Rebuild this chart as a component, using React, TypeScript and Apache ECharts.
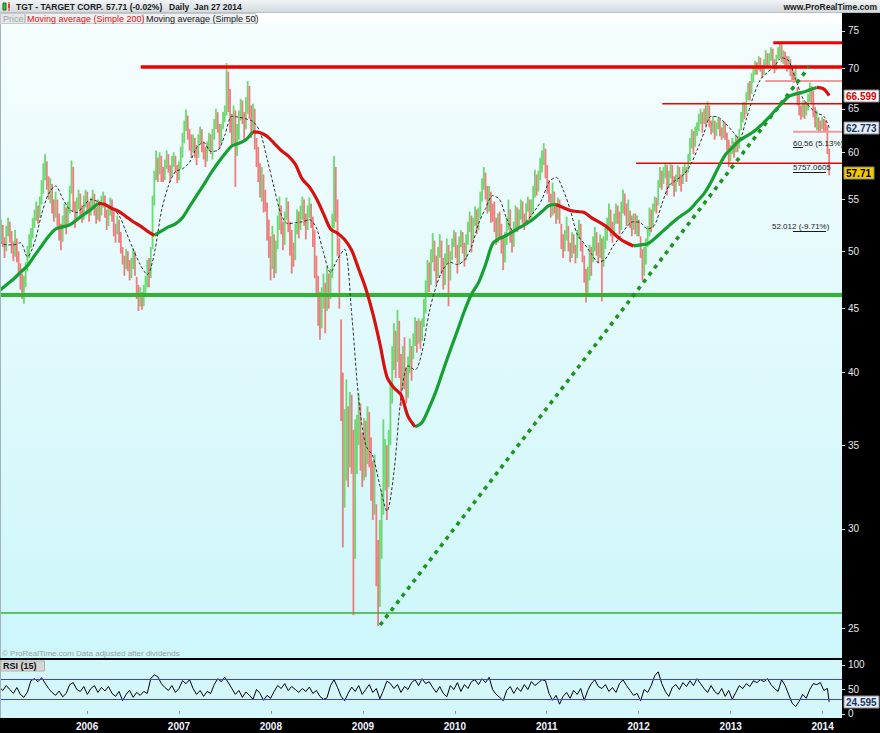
import { useEffect, useRef } from "react";
import * as echarts from "echarts";

// ---------- time grid ----------
const DAY = 86400000;
const FIRST_WEEK = Date.UTC(2005, 0, 17);
const LAST_DAY = Date.UTC(2014, 0, 27);
const X_MIN = Date.UTC(2005, 0, 20);
const X_MAX = Date.UTC(2014, 2, 19);
const weekTime = (i: number) => Math.min(FIRST_WEEK + i * 7 * DAY, LAST_DAY);

// ---------- weekly price bars (TGT) ----------
const priceClose = [
  51.2, 52.4, 51.0, 50.2, 51.6, 52.6, 51.8, 50.4, 49.8, 51.0,
  49.6, 48.3, 47.4, 46.5, 46.9,
  48.4, 49.8, 50.6, 51.4,
  52.6, 53.2, 54.0, 53.4, 54.6, 55.6,
  57.8, 58.6, 56.8,
  55.6, 56.4, 54.6, 53.8, 55.0,
  53.2, 52.0, 51.2, 52.4, 53.8, 52.6, 54.0,
  55.8, 57.6, 54.2, 53.6,
  54.4, 55.2, 54.0, 53.4, 54.8, 55.4, 54.2, 53.6, 54.6, 55.3, 54.0, 53.2, 54.4,
  53.8, 54.6, 55.2, 53.8, 52.8, 53.6, 54.4,
  53.4, 52.2, 51.6, 52.8, 51.4, 50.6,
  49.4, 48.6, 49.6, 48.8, 48.0, 48.6, 49.8, 48.4,
  46.6, 45.6, 46.2, 45.4, 46.4, 47.2,
  48.6, 47.8, 50.0,
  54.6, 57.4, 58.8, 58.0, 59.2, 58.2,
  57.4, 58.6, 59.6, 58.4, 57.6, 58.8, 59.4, 58.2, 57.2, 58.4, 59.8,
  61.6, 62.8, 64.0, 62.2, 61.4, 60.6,
  61.0, 60.4, 59.8, 61.2, 62.2, 61.0, 60.0, 59.2, 60.4, 61.4, 60.8,
  61.8, 63.0, 64.2, 62.8, 61.6, 62.4, 63.8, 64.6,
  69.0, 66.0,
  63.4, 61.8, 64.4, 60.2, 62.0, 64.0,
  65.6, 64.2, 62.8, 65.2, 67.4, 65.0, 63.2, 64.6, 63.0,
  60.0, 58.2, 56.6, 57.4, 55.0, 54.6,
  52.4, 50.6, 49.0, 51.6, 48.6, 50.2,
  52.4, 53.8, 52.2, 51.0, 53.4, 54.6, 52.6,
  51.2, 50.0, 49.4, 52.0, 53.0, 52.2,
  53.4, 54.6, 53.0, 52.2, 53.8, 54.4, 52.8,
  51.6, 49.0, 47.2, 45.4, 44.0, 46.0,
  46.8, 45.2, 47.4, 46.0, 47.8,
  52.6, 57.0, 54.0, 51.0,
  47.0,
  38.0, 33.4, 35.2,
  36.4, 34.0, 37.8, 35.0,
  29.0, 33.6,
  35.6, 37.2, 34.4, 33.2, 35.8, 34.0, 36.8, 35.0,
  32.8, 31.6, 33.2,
  28.2, 26.4, 28.6,
  31.4, 33.0, 34.6, 32.6, 35.0,
  38.4, 40.6, 42.4, 41.0, 43.6, 40.8,
  39.4, 41.2, 39.8, 38.6, 40.4, 41.6, 40.2,
  42.4, 43.6, 42.2, 43.8, 42.8, 43.4,
  45.0, 46.6, 48.4, 47.2, 49.4, 50.6, 49.0, 48.2,
  49.6, 50.8, 48.8, 47.4, 49.2, 50.4, 47.0,
  49.4, 50.6, 51.4, 50.2, 49.0, 50.8, 51.6, 50.4, 49.6, 51.0,
  52.2, 53.0, 51.6, 52.6, 53.8, 52.4, 53.6,
  55.2, 56.4, 57.6, 56.0, 54.4, 55.6, 54.0, 53.6,
  52.6, 51.4, 53.0, 52.2, 50.8, 49.6, 51.2, 52.6,
  53.6, 51.8, 50.6, 52.4, 53.8, 52.6, 53.2,
  54.2, 53.4, 52.8, 54.0, 54.8, 53.6, 54.4,
  55.6, 57.0, 56.2, 57.4,
  58.6, 59.4, 60.0, 58.0, 56.4, 55.4,
  54.0, 55.2, 54.4, 53.4, 54.6, 53.0,
  51.0, 50.2, 51.4, 52.2, 50.6, 49.8, 51.2, 50.4, 49.6, 51.6, 52.4, 50.8, 49.6,
  48.0, 46.6, 47.8, 49.4, 48.6,
  50.6, 51.4, 50.2, 49.6, 51.0, 49.0, 50.8, 51.8,
  52.6, 53.4, 52.2, 51.6, 53.0, 54.0, 53.2, 52.4,
  54.2, 55.2, 54.0, 53.2, 54.4,
  53.0, 52.4, 53.2, 52.0, 52.8, 51.8,
  49.8, 48.4, 49.2, 50.2,
  51.8, 53.4, 52.6, 54.0, 55.0, 54.4,
  56.4, 57.6, 56.8, 57.8, 58.2, 56.6, 57.4, 58.4, 57.2, 56.2, 57.0, 58.0, 57.2, 56.6, 57.8, 58.4, 57.6,
  59.4, 60.8, 61.8, 60.6, 62.2, 62.6,
  63.8, 64.4, 63.2, 64.6, 64.0, 65.2, 63.8,
  62.6, 63.4, 62.0, 62.8, 63.6, 62.4, 61.8, 63.0, 62.2,
  61.0, 59.4, 60.0, 60.8, 60.2, 61.4, 60.6, 62.0,
  63.8, 65.2, 64.6, 66.4, 67.6, 67.0, 68.6,
  69.6, 70.4, 69.8, 71.0, 70.2, 69.4, 70.6, 71.6, 70.8, 71.4, 72.0, 71.0, 70.2, 71.2, 72.2,
  72.6, 71.6,
  72.0, 71.2, 70.4, 71.0, 69.8, 69.2, 68.6, 69.4,
  66.6, 65.0, 64.2, 65.4, 64.4, 65.2,
  66.2, 67.4, 66.8, 64.6, 63.6, 64.2,
  63.2, 62.6, 63.4, 63.0, 62.8,
  60.2, 57.71,
];

const priceHigh = [
  52.2, 53.0, 52.5, 51.3, 52.4, 53.2, 52.8, 51.9, 50.9, 52.0,
  51.2, 50.0, 48.9, 48.0, 47.8,
  49.0, 50.5, 51.6, 52.2,
  53.2, 54.0, 54.8, 54.4, 55.3, 57.0,
  58.8, 59.8, 59.0,
  57.4, 57.2, 56.6, 55.0, 55.8,
  55.0, 53.6, 52.6, 53.4, 54.6, 54.2, 54.8,
  56.4, 59.1, 58.4, 54.8,
  55.2, 56.0, 55.6, 54.4, 55.4, 56.0, 55.8, 54.8, 55.2, 56.0, 55.6, 54.2, 55.0,
  54.8, 55.4, 55.8, 55.4, 54.0, 54.4, 55.2,
  55.0, 53.8, 52.6, 53.4, 53.0, 51.8,
  50.4, 49.6, 50.2, 50.0, 49.2, 49.4, 50.3, 50.0,
  47.7, 47.0, 46.8, 46.4, 47.0, 47.8,
  49.2, 49.4, 50.4,
  55.4, 58.0, 60.2, 59.4, 60.0, 59.6,
  58.4, 59.2, 60.2, 59.8, 58.6, 59.6, 60.0, 59.6, 58.6, 59.0, 60.6,
  62.2, 63.6, 64.9, 64.2, 62.6, 62.0,
  62.0, 61.6, 60.8, 62.0, 62.9, 62.6, 61.2, 60.6, 61.2, 62.2, 62.0,
  62.6, 63.8, 65.0, 64.6, 63.2, 63.2, 64.6, 65.4,
  70.7, 69.6,
  67.4, 64.4, 65.4, 64.8, 63.2, 64.8,
  66.2, 66.0, 64.6, 66.4, 68.4, 67.8, 65.4, 65.6, 65.0,
  61.6, 60.6, 58.8, 58.4, 57.6, 56.0,
  54.7, 53.0, 51.4, 52.4, 51.6, 51.0,
  53.4, 55.3, 54.4, 52.8, 53.8, 55.2, 54.8,
  52.8, 52.0, 50.8, 52.6, 54.0, 53.8,
  54.4, 55.3, 55.0, 53.6, 54.4, 55.2, 54.6,
  53.3, 52.0, 49.6, 47.8, 46.4, 46.8,
  48.0, 47.2, 48.6, 48.0, 48.4,
  53.6, 59.6, 58.4, 55.0,
  51.2,
  44.1, 40.0, 37.4,
  39.5, 37.6, 38.6, 38.4,
  36.0, 36.7,
  37.0, 38.5, 37.8, 35.8, 36.8, 36.6, 37.6, 37.2,
  35.5, 34.0, 34.4,
  31.4, 29.4, 30.5,
  32.2, 36.7, 35.4, 35.0, 36.0,
  39.2, 42.0, 43.8, 43.2, 44.9, 44.0,
  41.4, 42.0, 42.7, 40.4, 41.2, 42.6, 42.0,
  43.0, 44.3, 44.0, 44.2, 44.0, 44.2,
  45.8, 47.4, 49.2, 49.0, 50.2, 51.7, 51.0, 49.6,
  50.4, 51.6, 51.0, 49.4, 49.8, 51.2, 50.6,
  50.0, 51.2, 52.0, 51.8, 50.6, 51.4, 52.0, 51.8, 50.8, 51.6,
  52.8, 53.8, 53.4, 53.2, 54.3, 54.0, 54.2,
  55.8, 57.2, 58.4, 57.8, 56.4, 56.4, 55.8, 54.6,
  54.8, 53.2, 53.6, 53.8, 52.6, 51.4, 51.8, 53.2,
  55.0, 54.0, 52.0, 52.8, 54.4, 54.2, 54.0,
  55.0, 54.8, 53.6, 54.6, 55.3, 55.0, 55.0,
  56.4, 58.1, 57.6, 58.0,
  59.4, 60.2, 61.0, 60.4, 58.6, 57.0,
  55.6, 56.7, 55.8, 54.6, 55.2, 55.0,
  52.6, 51.6, 52.0, 53.3, 52.4, 50.8, 51.8, 51.6, 50.6, 52.0, 53.0, 52.6, 50.8,
  49.6, 48.4, 48.6, 50.6, 50.4,
  51.4, 52.3, 51.8, 50.8, 51.6, 51.2, 51.4, 52.2,
  53.2, 54.6, 54.0, 52.8, 53.6, 54.6, 54.4, 53.8,
  54.8, 56.0, 55.6, 54.6, 55.0,
  53.9, 53.4, 53.6, 53.6, 53.4, 53.0,
  51.4, 50.2, 50.4, 51.2,
  52.4, 54.2, 54.0, 54.6, 55.3, 55.2,
  57.0, 58.4, 58.0, 58.4, 58.8, 58.6, 58.0, 58.8, 58.6, 57.4, 57.6, 58.6, 58.4, 57.6, 58.4, 58.8, 58.4,
  59.8, 61.6, 62.6, 62.4, 62.9, 63.4,
  64.4, 65.0, 64.6, 65.0, 65.4, 65.9, 65.4,
  63.6, 64.1, 63.6, 63.4, 64.0, 63.8, 62.8, 63.6, 63.4,
  62.2, 61.4, 60.8, 61.6, 61.2, 62.0, 61.8, 62.6,
  64.6, 65.8, 65.8, 67.0, 68.2, 68.4, 69.4,
  70.2, 71.0, 70.8, 71.6, 71.4, 70.4, 71.2, 72.4, 72.0, 72.0, 72.8, 72.6, 71.2, 71.8, 72.8,
  73.5, 73.2,
  72.4, 72.2, 71.6, 71.6, 71.2, 70.2, 69.6, 70.2,
  67.6, 66.8, 65.4, 66.0, 65.8, 65.8,
  66.8, 68.2, 67.8, 67.2, 65.2, 64.8,
  64.0, 63.6, 64.0, 63.8, 63.6,
  63.0, 60.4,
];

const priceLow = [
  50.3, 50.9, 50.4, 49.4, 50.0, 51.4, 50.8, 49.8, 49.1, 49.5,
  49.0, 47.8, 46.6, 45.8, 45.4,
  46.8, 48.2, 49.4, 50.3,
  51.2, 52.2, 52.9, 52.6, 53.2, 54.5,
  55.6, 57.0, 56.0,
  55.0, 54.6, 53.6, 52.8, 53.2,
  52.4, 51.0, 50.1, 50.9, 52.2, 51.6, 52.4,
  53.6, 55.6, 53.8, 52.2,
  53.0, 54.0, 53.2, 52.7, 53.0, 54.2, 53.6, 52.8, 53.4, 54.0, 53.4, 52.6, 53.0,
  52.8, 53.4, 54.2, 53.2, 52.0, 52.4, 53.4,
  52.8, 51.4, 50.8, 51.6, 50.8, 49.8,
  48.8, 47.8, 48.4, 48.2, 47.4, 47.6, 48.4, 47.8,
  45.8, 44.8, 45.2, 44.9, 45.2, 46.0,
  46.8, 46.8, 47.6,
  50.2, 54.4, 57.0, 56.8, 57.6, 56.8,
  56.8, 57.0, 58.2, 57.8, 56.8, 57.4, 58.4, 57.8, 56.7, 57.0, 58.2,
  59.4, 61.0, 62.4, 61.4, 60.2, 59.4,
  60.0, 59.4, 58.6, 59.4, 61.0, 60.0, 59.2, 58.4, 59.0, 60.2, 59.8,
  59.2, 61.4, 62.6, 62.2, 60.4, 61.0, 62.6, 63.4,
  64.2, 64.6,
  62.2, 60.6, 61.0, 56.3, 59.6, 61.4,
  63.6, 63.2, 61.4, 62.6, 64.4, 63.8, 61.6, 62.2, 60.3,
  58.4, 56.8, 55.2, 54.8, 53.7, 53.8,
  51.0, 49.4, 47.4, 48.4, 47.6, 48.0,
  50.2, 52.0, 51.6, 50.1, 50.6, 53.0, 51.8,
  49.6, 48.0, 48.6, 49.2, 51.6, 51.2,
  52.0, 53.0, 52.4, 51.1, 52.0, 53.2, 52.2,
  50.4, 47.6, 46.0, 43.6, 42.5, 43.4,
  45.0, 43.0, 44.8, 45.0, 45.8,
  47.6, 52.2, 52.8, 49.6,
  45.0,
  36.6, 29.0, 31.2,
  32.8, 32.4, 33.6, 33.2,
  25.6, 28.4,
  33.2, 35.0, 33.4, 32.4, 32.8, 33.0, 33.8, 33.6,
  31.6, 30.5, 30.8,
  27.0, 25.1, 26.0,
  28.4, 30.8, 32.2, 30.5, 32.4,
  35.0, 37.8, 40.2, 39.6, 40.8, 39.6,
  37.6, 38.8, 38.8, 37.8, 38.2, 40.0, 39.4,
  41.0, 42.0, 41.5, 42.2, 41.8, 42.4,
  43.5, 44.6, 46.2, 46.4, 47.0, 49.0, 48.2, 47.0,
  47.6, 49.4, 48.0, 46.6, 47.0, 48.8, 45.2,
  47.4, 49.2, 50.4, 49.4, 48.0, 48.8, 50.4, 49.8, 48.6, 49.2,
  50.6, 51.8, 49.9, 51.0, 52.4, 51.6, 52.0,
  53.2, 54.8, 56.0, 55.0, 53.6, 53.8, 52.7, 52.8,
  51.8, 50.6, 50.8, 51.2, 49.8, 48.3, 49.0, 50.6,
  52.0, 50.8, 49.9, 50.4, 52.0, 51.8, 52.2,
  53.0, 52.6, 52.0, 52.6, 53.8, 52.8, 53.2,
  53.6, 55.2, 55.4, 55.8,
  57.0, 57.8, 58.6, 57.2, 55.6, 54.7,
  53.2, 53.4, 53.6, 52.6, 53.0, 52.6,
  50.2, 49.4, 50.0, 51.0, 50.0, 49.0, 49.4, 49.8, 48.9, 49.4, 51.2, 50.0, 49.0,
  47.2, 45.5, 46.2, 47.4, 47.8,
  49.0, 50.0, 49.6, 48.9, 49.4, 45.6, 48.6, 50.2,
  51.0, 52.2, 51.4, 50.8, 51.4, 52.6, 52.6, 51.6,
  52.0, 53.6, 53.4, 52.4, 52.6,
  52.2, 51.4, 52.0, 51.6, 51.4, 51.4,
  49.4, 47.4, 47.8, 48.8,
  50.4, 51.4, 51.8, 52.2, 53.8, 53.6,
  54.4, 56.2, 56.0, 56.6, 57.2, 55.4, 56.2, 57.2, 56.4, 55.3, 55.8, 56.8, 56.4, 55.8, 56.6, 57.6, 56.8,
  57.8, 59.0, 60.4, 59.8, 60.6, 61.8,
  62.4, 63.2, 62.2, 63.2, 63.0, 63.6, 62.8,
  62.0, 62.2, 61.4, 61.8, 62.6, 61.8, 61.4, 61.6, 61.4,
  60.2, 58.4, 59.0, 59.8, 59.4, 60.0, 60.0, 60.4,
  62.5, 63.4, 63.8, 64.4, 66.0, 66.0, 66.8,
  68.2, 69.2, 69.2, 69.8, 69.6, 68.8, 69.2, 70.4, 70.2, 70.4, 71.0, 70.4, 69.4, 69.8, 71.2,
  71.4, 70.8,
  70.6, 70.2, 69.6, 69.8, 69.0, 68.4, 68.2, 68.6,
  65.4, 64.2, 63.7, 64.0, 63.8, 64.2,
  64.8, 65.8, 65.6, 64.0, 62.8, 62.5,
  62.4, 62.2, 62.6, 62.2, 62.3,
  59.8, 57.5,
];

// ---------- moving averages, one reading every 4 weeks ----------
const sma200 = [
  46.5, 47.0, 47.5, 48.1, 48.7, 49.6, 50.5, 51.4, 52.1, 52.3,
  52.5, 53.0, 53.5, 54.0, 54.6, 54.5, 54.1, 53.8, 53.3, 52.8,
  52.4, 51.9, 51.5, 51.9, 52.3, 52.6, 53.2, 54.3, 55.4, 56.5,
  57.7, 58.8, 59.8, 60.7, 61.0, 61.4, 62.3, 62.2, 61.8, 61.0,
  60.2, 59.6, 58.7, 57.1, 56.3, 55.1, 53.6, 52.1, 51.7, 51.1,
  50.1, 48.4, 46.7, 44.6, 42.2, 39.7, 38.9, 38.4, 36.9, 36.2,
  36.5, 37.5, 38.7, 40.2, 41.7, 43.2, 44.8, 46.2, 47.2, 48.8,
  50.7, 51.2, 51.5, 51.9, 52.3, 52.7, 53.2, 53.8, 54.4, 54.5,
  54.2, 53.9, 53.8, 53.7, 53.2, 52.8, 52.4, 51.8, 51.2, 50.8,
  50.5, 50.6, 50.7, 51.2, 51.8, 52.4, 53.0, 53.5, 54.0, 54.8,
  55.6, 56.8, 58.3, 59.7, 60.5, 61.3, 61.8, 62.3, 63.0, 63.8,
  64.7, 65.6, 66.5, 66.8, 67.0, 67.3, 67.6, 67.4, 66.599,
];

const sma50 = [
  50.9, 50.6, 50.6, 50.8, 49.5, 50.8, 53.5, 55.6, 56.4, 55.1,
  54.0, 53.7, 54.4, 55.0, 54.8, 54.5, 54.1, 53.4, 51.8, 50.2,
  48.8, 47.9, 49.8, 53.8, 56.4, 57.9, 58.2, 58.9, 60.5, 61.1,
  60.1, 60.2, 61.9, 64.1, 64.0, 63.8, 63.5, 62.3, 59.3, 56.2,
  53.5, 52.6, 52.7, 52.8, 53.0, 52.2, 49.9, 48.1, 49.3, 50.2,
  44.6, 38.1, 35.0, 34.3, 32.5, 31.0, 33.3, 38.2, 40.5, 40.2,
  41.6, 44.7, 46.9, 48.4, 49.0, 48.8, 49.2, 50.4, 52.6, 54.1,
  55.4, 55.0, 53.1, 51.9, 52.3, 53.0, 53.9, 55.0, 56.8, 57.3,
  56.0, 54.0, 51.6, 50.7, 49.8, 49.0, 49.3, 50.4, 51.3, 52.3,
  52.8, 52.7, 52.1, 52.5, 54.5, 56.4, 57.0, 57.5, 58.5, 60.2,
  62.2, 64.1, 64.0, 63.3, 62.4, 61.5, 63.8, 66.5, 68.6, 69.5,
  70.3, 71.4, 71.0, 68.6, 66.3, 65.2, 64.5, 64.1, 62.773,
];

// ---------- RSI(15), one reading every 2 weeks ----------
const rsi15 = [
  55, 48, 58, 50, 42, 54, 40, 34, 45, 68, 72, 66, 74, 63,
  52, 44, 38, 47, 35, 42, 60, 64, 50, 46, 56, 40, 52, 58, 44,
  54, 47, 56, 42, 36, 46, 27, 40, 48, 34, 44, 38, 46, 42,
  72, 80, 76, 62, 54, 48, 58, 44, 52, 68, 62, 70, 52,
  40, 48, 36, 46, 42, 60, 72, 66, 75, 64,
  52, 40, 48, 34, 45, 38, 30, 50, 42, 28, 38, 32, 46,
  58, 52, 62, 48, 56, 50, 44, 52, 46, 55, 42, 48, 36, 30, 33,
  58, 70, 54, 36, 27, 42, 55, 46, 58, 40, 50, 60, 44, 52, 31,
  48, 67, 62, 52, 60, 44, 56, 50, 64, 70, 58, 72, 62, 66, 54,
  44, 56, 42, 35, 58, 50, 64, 46, 60, 52, 66, 70, 60, 72, 64, 75,
  50, 40, 34, 27, 48, 56, 42, 54, 46, 60, 50, 66, 58, 64, 70, 68,
  42, 28, 38, 20, 36, 44, 32, 48, 40, 52, 28, 48, 62, 70, 56, 52,
  60, 46, 54, 44, 62, 70, 58, 48, 38, 42, 27, 50, 44, 58, 78, 86,
  62, 46, 36, 54, 60, 50, 64, 56, 68, 58, 72, 62, 52, 44, 58, 46,
  40, 52, 36, 48, 30, 44, 58, 52, 62, 56, 68, 64, 70, 66, 72, 60,
  52, 46, 70, 58, 40, 22, 15, 26, 40, 32, 50, 62, 60, 64, 48, 52, 24.595,
];

// ---------- horizontal levels and trend line ----------
const resistanceLevels = [73.4, 70.2, 65.6, 58.8];
const resistanceStarts = ["2013-06-19", "2006-08-02", "2012-04-04", "2011-12-22"];
const minorLevels = [68.4, 62.3];
const minorStarts = ["2013-05-18", "2013-09-06"];
const supportLevels = [46.15, 25.7];
const trendDates = ["2009-03-10", "2013-11-08"];
const trendValues = [25.14, 70.19];

// ---------- ticks ----------
const priceTicks = [25, 30, 35, 40, 45, 50, 55, 60, 65, 70, 75];
const rsiTicks = [0, 50, 100];
const rsiLevels = [70, 30];
const yearTicks = [2006, 2007, 2008, 2009, 2010, 2011, 2012, 2013, 2014];

const lastPrice = 57.71;

const FONT = '"Liberation Sans", Arial, Helvetica, sans-serif';
const ln = Math.log;
const t = (s: string) => new Date(s).getTime();

function buildOption(): any {
  const n = Math.min(priceHigh.length, priceLow.length, priceClose.length);
  const bars: any[] = [];
  for (let i = 0; i < n; i++) {
    const up = i === 0 ? 1 : priceClose[i] >= priceClose[i - 1] ? 1 : 0;
    bars.push([weekTime(i), ln(priceHigh[i]), ln(priceLow[i]), up]);
  }
  const m = sma200.length;
  const rising = (k: number) => sma200[k] >= sma200[k - 1];
  const upData = sma200.map((v, k) => {
    const a = k > 0 && rising(k);
    const b = k < m - 1 && rising(k + 1);
    return [weekTime(4 * k), a || b ? ln(v) : "-"];
  });
  const downData = sma200.map((v, k) => {
    const a = k > 0 && !rising(k);
    const b = k < m - 1 && !rising(k + 1);
    return [weekTime(4 * k), a || b ? ln(v) : "-"];
  });
  const sma50Data = sma50.map((v, k) => [weekTime(4 * k), ln(v)]);
  const rsiData = rsi15.map((v, j) => [weekTime(2 * j), v]);

  const hLine = (value: number, from: number, color: string, width: number, z = 3) => ({
    type: "line",
    xAxisIndex: 0,
    yAxisIndex: 0,
    data: [
      [from, ln(value)],
      [X_MAX, ln(value)],
    ],
    symbol: "none",
    silent: true,
    z,
    lineStyle: { color, width, cap: "butt" },
  });
  const resWidths = [3, 3.5, 1.6, 1.6];
  const levelSeries: any[] = [
    ...resistanceLevels.map((v, i) => hLine(v, t(resistanceStarts[i]), "#f20000", resWidths[i])),
    ...minorLevels.map((v, i) => hLine(v, t(minorStarts[i]), "#f39a9a", 2)),
    hLine(supportLevels[0], X_MIN, "#2fb52f", 4),
    hLine(supportLevels[1], X_MIN, "#3aae3a", 1.5),
  ];

  const yearValues = yearTicks.map((y) => Date.UTC(y, 0, 1));

  return {
    animation: false,
    backgroundColor: "#ffffff",
    textStyle: { fontFamily: FONT },
    grid: [
      { left: 0, right: 38, top: 24, height: 634, outerBoundsMode: "none", containLabel: false },
      { left: 0, right: 38, top: 660, height: 58, outerBoundsMode: "none", containLabel: false },
    ],
    xAxis: [
      {
        type: "value",
        gridIndex: 0,
        min: X_MIN,
        max: X_MAX,
        show: false,
        splitLine: { show: false },
      },
      {
        type: "value",
        gridIndex: 1,
        min: X_MIN,
        max: X_MAX,
        axisLine: { show: false },
        splitLine: { show: false },
        axisTick: {
          show: true,
          inside: true,
          length: 3,
          lineStyle: { color: "#8a9aa0" },
          customValues: yearValues,
        },
        axisLabel: {
          color: "#f0f4ff",
          fontSize: 10,
          fontWeight: "bold",
          fontFamily: FONT,
          margin: 3,
          customValues: yearValues,
          formatter: (v: number) => String(new Date(v).getUTCFullYear()),
        },
      },
    ],
    yAxis: [
      {
        type: "value",
        gridIndex: 0,
        position: "right",
        min: ln(23.66),
        max: ln(75.97),
        splitLine: { show: false },
        axisLine: { show: false },
        axisTick: {
          show: true,
          length: 3,
          lineStyle: { color: "#d8d8d8" },
          customValues: priceTicks.map((v) => ln(v)),
        },
        axisLabel: {
          color: "#e8e8e8",
          fontSize: 10,
          fontFamily: FONT,
          margin: 6,
          customValues: priceTicks.map((v) => ln(v)),
          formatter: (v: number) => String(Math.round(Math.exp(v))),
        },
      },
      {
        type: "value",
        gridIndex: 1,
        position: "right",
        min: -8.2,
        max: 110.2,
        splitLine: { show: false },
        axisLine: { show: false },
        axisTick: { show: true, length: 3, lineStyle: { color: "#d8d8d8" }, customValues: rsiTicks },
        axisLabel: {
          color: "#e8e8e8",
          fontSize: 10,
          fontFamily: FONT,
          margin: 6,
          customValues: rsiTicks,
          formatter: (v: number) => String(Math.round(v)),
        },
      },
    ],
    series: [
      {
        type: "custom",
        name: "Price",
        xAxisIndex: 0,
        yAxisIndex: 0,
        silent: true,
        clip: true,
        z: 2,
        encode: { x: 0, y: [1, 2] },
        data: bars,
        renderItem: (_p: any, api: any) => {
          const top = api.coord([api.value(0), api.value(1)]);
          const bot = api.coord([api.value(0), api.value(2)]);
          return {
            type: "rect",
            shape: { x: top[0] - 0.9, y: top[1], width: 1.8, height: Math.max(1, bot[1] - top[1]) },
            style: { fill: api.value(3) ? "#5fd35f" : "#ee6c6c", opacity: 0.88 },
          };
        },
      },
      ...levelSeries,
      {
        type: "line",
        name: "Moving average (Simple 50)",
        xAxisIndex: 0,
        yAxisIndex: 0,
        data: sma50Data,
        symbol: "none",
        smooth: 0.3,
        silent: true,
        z: 4,
        lineStyle: { color: "#303030", width: 1, type: [3, 2] },
      },
      {
        type: "line",
        name: "Trend",
        xAxisIndex: 0,
        yAxisIndex: 0,
        data: trendDates.map((d, i) => [t(d), ln(trendValues[i])]),
        symbol: "none",
        silent: true,
        z: 4,
        lineStyle: { color: "#1c961c", width: 3.6, type: [4, 5], cap: "butt" },
      },
      {
        type: "line",
        name: "SMA200 rising",
        xAxisIndex: 0,
        yAxisIndex: 0,
        data: upData,
        symbol: "none",
        smooth: 0.3,
        connectNulls: false,
        silent: true,
        z: 5,
        lineStyle: { color: "#17a032", width: 3.2 },
      },
      {
        type: "line",
        name: "Moving average (Simple 200)",
        xAxisIndex: 0,
        yAxisIndex: 0,
        data: downData,
        symbol: "none",
        smooth: 0.3,
        connectNulls: false,
        silent: true,
        z: 5,
        lineStyle: { color: "#d81010", width: 3.2 },
      },
      {
        type: "line",
        name: "RSI (15)",
        xAxisIndex: 1,
        yAxisIndex: 1,
        data: rsiData,
        symbol: "none",
        silent: true,
        z: 4,
        lineStyle: { color: "#000000", width: 1 },
        markLine: {
          silent: true,
          symbol: ["none", "none"],
          label: { show: false },
          lineStyle: { color: "#3d3df2", width: 1, type: "solid" },
          data: rsiLevels.map((v) => ({ yAxis: v })),
        },
      },
    ],
  };
}

function buildGraphics(chart: any): any[] {
  const py = (v: number) => chart.convertToPixel({ yAxisIndex: 0 }, ln(v)) as number;
  const ry = (v: number) => chart.convertToPixel({ yAxisIndex: 1 }, v) as number;
  const rect = (x: number, y: number, w: number, h: number, fill: any, z = -10, stroke?: string) => ({
    type: "rect",
    z,
    silent: true,
    shape: { x, y, width: w, height: h },
    style: { fill, stroke: stroke || null, lineWidth: stroke ? 1 : 0 },
  });
  const text = (x: number, y: number, s: string, extra: any = {}) => ({
    type: "text",
    z: 100,
    silent: true,
    x,
    y,
    style: { text: s, fill: "#1a1a1a", fontFamily: FONT, fontSize: 8, verticalAlign: "middle", ...extra },
  });
  const line = (x1: number, y1: number, x2: number, y2: number, color: string, w = 1, z = 100) => ({
    type: "line",
    z,
    silent: true,
    shape: { x1, y1, x2, y2 },
    style: { stroke: color, lineWidth: w },
  });
  const tag = (y: number, s: string, fg: string, bg: string, w: number) => [
    rect(844, Math.round(y) - 6, w, 12, bg, 100, "#8c8c8c"),
    text(846, Math.round(y) + 0.5, s, { fill: fg, fontSize: 10, fontWeight: "bold" }),
  ];

  const plotBg = new echarts.graphic.LinearGradient(0, 0, 0, 1, [
    { offset: 0, color: "#f5fdfe" },
    { offset: 1, color: "#ccf6fa" },
  ]);
  const headBg = new echarts.graphic.LinearGradient(0, 0, 0, 1, [
    { offset: 0, color: "#f2f4f6" },
    { offset: 1, color: "#d4dade" },
  ]);

  const yLast = py(lastPrice);
  const y200 = py(sma200[sma200.length - 1]);
  const y50 = py(sma50[sma50.length - 1]);
  const yRsi = ry(rsi15[rsi15.length - 1]);

  return [
    // backgrounds
    rect(0, 24, 842, 636, plotBg),
    rect(0, 660, 842, 58, "#d3f7fb"),
    rect(842, 12, 38, 721, "#000000"),
    rect(0, 718, 842, 15, "#000000"),
    rect(0, 0, 880, 12, headBg),
    rect(0, 12, 842, 12, "#ffffff"),
    line(0, 12.5, 880, 12.5, "#b8c0c6", 1, -9),
    rect(0, 24, 1, 694, "#9fb4bc", 50),
    rect(0, 658, 842, 2, "#000000", 50),
    // header
    rect(3, 3, 3, 7, "#3cc43c", 100, "#1a6a1a"),
    line(9, 2, 9, 11, "#d03030", 1),
    rect(8, 4, 2, 4, "#e04040", 100),
    text(16, 6.5, "TGT - TARGET CORP.", { fontWeight: "bold", fontSize: 8.5 }),
    text(106, 6.5, "57.71 (-0.02%)", { fontWeight: "bold", fontSize: 8.5 }),
    text(169, 6.5, "Daily", { fontWeight: "bold", fontSize: 8.5 }),
    text(194, 6.5, "Jan 27 2014", { fontWeight: "bold", fontSize: 8.5 }),
    text(877, 6.5, "www.ProRealTime.com", { fontWeight: "bold", fontSize: 8.5, align: "right" }),
    // legend buttons
    rect(0.5, 13.5, 24, 10, "#e4e6e8", 90, "#c4c8cc"),
    text(3, 18.5, "Price", { fill: "#a0a4a8", fontSize: 9 }),
    rect(25.5, 13.5, 118, 10, "#eef0f2", 90, "#c4c8cc"),
    text(27, 18.5, "Moving average (Simple 200)", { fill: "#e01010", fontSize: 9 }),
    rect(143.5, 13.5, 112, 10, "#eef0f2", 90, "#c4c8cc"),
    text(146, 18.5, "Moving average (Simple 50)", { fill: "#141414", fontSize: 9 }),
    // bottom notes
    text(2, 653, "© ProRealTime.com Data adjusted after dividends", { fill: "#9aa0a4" }),
    rect(0.5, 661, 44, 10, "#d6d6d6", 90, "#b0b0b0"),
    text(3, 666, "RSI (15)", { fontWeight: "bold", fill: "#101010", fontSize: 9 }),
    // annotations
    text(793, 143, "60.56 (5.13%)"),
    line(793, 147.5, 803, 147.5, "#1a1a1a"),
    text(793, 167, "5757.0605"),
    line(793, 172.5, 826, 172.5, "#1a1a1a"),
    text(772, 226, "52.012 (-9.71%)"),
    line(793, 231.5, 826, 231.5, "#1a1a1a"),
    // value tags
    ...tag(y200, "66.599", "#e00000", "#ffffff", 35),
    ...tag(y50, "62.773", "#1c3560", "#e3eef8", 35),
    ...tag(yLast, "57.71", "#000000", "#f4c800", 30),
    ...tag(yRsi, "24.595", "#1c3560", "#e3eef8", 35),
  ];
}

export default function App() {
  const ref = useRef<HTMLDivElement>(null);
  useEffect(() => {
    const el = ref.current;
    if (!el) return;
    const chart = echarts.init(el, null, { renderer: "svg" });
    chart.setOption(buildOption());
    chart.setOption({ graphic: buildGraphics(chart) });
    return () => chart.dispose();
  }, []);
  return (
    <div
      ref={ref}
      style={{ position: "fixed", left: 0, top: 0, width: 880, height: 733, background: "#fff" }}
    />
  );
}
